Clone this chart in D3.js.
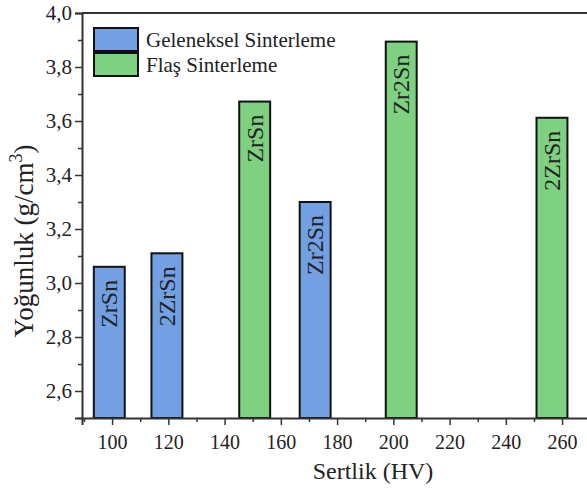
<!DOCTYPE html>
<html>
<head>
<meta charset="utf-8">
<script src="https://cdn.jsdelivr.net/npm/d3@7"></script>
<style>
  body { margin: 0; background: #fff; }
  text { font-family: "Liberation Serif", "Times New Roman", serif; fill: #222; }
</style>
</head>
<body>
<div id="chart"></div>
<script>
// hardness (HV) and density (g/cm3)
const seriesNames = ['Geleneksel Sinterleme', 'Flaş Sinterleme'];
const conventionalHardness = [99, 119.5, 172.2];
const conventionalDensity = [3.06, 3.11, 3.30];
const conventionalLabels = ['ZrSn', '2ZrSn', 'Zr2Sn'];
const flashHardness = [150.7, 202.8, 256.4];
const flashDensity = [3.672, 3.894, 3.612];
const flashLabels = ['ZrSn', 'Zr2Sn', '2ZrSn'];
const xTicks = [100, 120, 140, 160, 180, 200, 220, 240, 260];
const yTicks = [2.6, 2.8, 3.0, 3.2, 3.4, 3.6, 3.8, 4.0];

const colors = ['#72a0e2', '#7ed181'];
const barWidth = 11; // in HV units

const W = 587, H = 498;
const mLeft = 82, mTop = 13, mBottom = 418;

const svg = d3.select('#chart').append('svg')
  .attr('width', W).attr('height', H);

const x = d3.scaleLinear().domain([89.3, 270]).range([mLeft, mLeft + 180.7 * 2.8125]);
const y = d3.scaleLinear().domain([2.5, 4.0]).range([mBottom, mTop]);

const data = [];
conventionalHardness.forEach((h, i) => data.push({ s: 0, h, d: conventionalDensity[i], label: conventionalLabels[i] }));
flashHardness.forEach((h, i) => data.push({ s: 1, h, d: flashDensity[i], label: flashLabels[i] }));

// bars
svg.selectAll('.bar')
  .data(data)
  .enter()
  .append('rect')
  .attr('class', 'bar')
  .attr('x', (d) => x(d.h - barWidth / 2))
  .attr('y', (d) => y(d.d))
  .attr('width', (d) => x(d.h + barWidth / 2) - x(d.h - barWidth / 2))
  .attr('height', (d) => mBottom - y(d.d))
  .attr('fill', (d) => colors[d.s])
  .attr('stroke', '#111')
  .attr('stroke-width', 2);

svg.selectAll('.bar-label')
  .data(data)
  .enter()
  .append('text')
  .attr('class', 'bar-label')
  .attr('transform', (d) => `translate(${x(d.h)},${y(d.d) + 13}) rotate(-90)`)
  .attr('text-anchor', 'end')
  .attr('dominant-baseline', 'central')
  .attr('font-size', 24)
  .text((d) => d.label);

// frame top line
svg.append('line')
  .attr('x1', mLeft).attr('x2', W + 5)
  .attr('y1', mTop).attr('y2', mTop)
  .attr('stroke', '#333').attr('stroke-width', 2);

// x axis
const xAxis = svg.append('g')
  .attr('transform', `translate(0,${mBottom})`)
  .call(d3.axisBottom(x).tickValues(xTicks).tickSize(7).tickPadding(10).tickFormat(d3.format('d')));
svg.append('g')
  .attr('transform', `translate(0,${mBottom})`)
  .call(d3.axisBottom(x).tickValues(xTicks.map((t) => t - 10).concat([270])).tickSize(4).tickFormat(''))
  .call((g) => g.select('.domain').remove());

// y axis
const yAxis = svg.append('g')
  .attr('transform', `translate(${mLeft},0)`)
  .call(d3.axisLeft(y).tickValues(yTicks).tickSize(7).tickPadding(3).tickFormat((d) => d3.format('.1f')(d).replace('.', ',')));
svg.append('g')
  .attr('transform', `translate(${mLeft},0)`)
  .call(d3.axisLeft(y).tickValues(yTicks.map((t) => t - 0.1)).tickSize(4).tickFormat(''))
  .call((g) => g.select('.domain').remove());

svg.selectAll('.domain').attr('stroke', '#333').attr('stroke-width', 2);
svg.selectAll('.tick line').attr('stroke', '#333').attr('stroke-width', 1.5);
xAxis.selectAll('.tick text').attr('font-size', 20).attr('font-family', 'Liberation Serif').attr('fill', '#222');
yAxis.selectAll('.tick text').attr('font-size', 21).attr('font-family', 'Liberation Serif').attr('fill', '#222');

// axis titles
svg.append('text')
  .attr('x', 373).attr('y', 479)
  .attr('text-anchor', 'middle')
  .attr('font-size', 24)
  .text('Sertlik (HV)');

const yTitle = svg.append('text')
  .attr('transform', 'translate(33,241) rotate(-90)')
  .attr('text-anchor', 'middle')
  .attr('font-size', 27);
yTitle.append('tspan').text('Yoğunluk (g/cm');
yTitle.append('tspan').attr('font-size', 18).attr('dy', -11).text('3');
yTitle.append('tspan').attr('dy', 11).text(')');

// legend
const legend = svg.append('g');
seriesNames.forEach((name, i) => {
  legend.append('rect')
    .attr('x', 94).attr('y', 28 + i * 25)
    .attr('width', 44).attr('height', 23)
    .attr('fill', colors[i])
    .attr('stroke', '#111').attr('stroke-width', 2);
  legend.append('text')
    .attr('x', 146).attr('y', 40 + i * 25)
    .attr('dominant-baseline', 'central')
    .attr('font-size', 21)
    .text(name);
});
</script>
</body>
</html>
